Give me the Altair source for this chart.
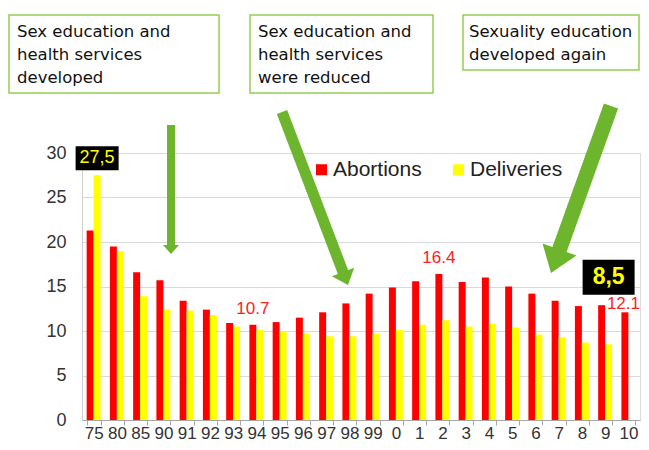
import altair as alt
import pandas as pd

# ---- data ----
years = ["75", "80", "85", "90", "91", "92", "93", "94", "95", "96", "97", "98",
         "99", "0", "1", "2", "3", "4", "5", "6", "7", "8", "9", "10"]
abortions = [21.3, 19.5, 16.6, 15.7, 13.4, 12.4, 10.9, 10.7, 11.0, 11.5, 12.1, 13.1,
             14.2, 14.9, 15.6, 16.4, 15.5, 16.0, 15.0, 14.2, 13.4, 12.8, 12.9, 12.1]
deliveries = [27.5, 19.0, 13.9, 12.4, 12.3, 11.8, 10.5, 10.1, 10.0, 9.7, 9.4, 9.4,
              9.7, 10.1, 10.7, 11.2, 10.5, 10.8, 10.4, 9.6, 9.3, 8.7, 8.5, None]
series = ["Abortions", "Deliveries"]
colors = ["#ff0000", "#ffff00"]
y_ticks = [0, 5, 10, 15, 20, 25, 30]

red_label_years = ["94", "2"]
red_label_last = ["10"]
boxed_label_years = ["75", "9"]

notes = [
    ["Sex education and", "health services", "developed"],
    ["Sex education and", "health services", "were reduced"],
    ["Sexuality education", "developed again"],
]

# ---- tables ----
rows = []
for i, yr in enumerate(years):
    rows.append({"year": yr, "series": "Abortions", "value": abortions[i]})
    if deliveries[i] is not None:
        rows.append({"year": yr, "series": "Deliveries", "value": deliveries[i]})
df = pd.DataFrame(rows)


def red_rows(ys):
    return pd.DataFrame([{"year": y, "series": "Abortions",
                          "value": abortions[years.index(y)],
                          "label": f"{abortions[years.index(y)]:.1f}"} for y in ys])


red_df = red_rows(red_label_years)
red_last_df = red_rows(red_label_last)
box_df = pd.DataFrame([{"year": y, "series": "Deliveries",
                        "value": deliveries[years.index(y)],
                        "label": f"{deliveries[years.index(y)]:.1f}".replace(".", ",")}
                       for y in boxed_label_years])

W, H = 558, 267
FONT = "Liberation Sans"
NOTE_FONT = "DejaVu Sans"
GREEN = "#6cb52d"

xscale = alt.Scale(domain=years, paddingInner=0.4, paddingOuter=0.2)
yscale = alt.Scale(domain=[0, 30])
xo = alt.XOffset("series:N", scale=alt.Scale(domain=series))
X = alt.X("year:N", sort=years, scale=xscale)
Y = alt.Y("value:Q", scale=yscale)

bars = alt.Chart(df).mark_bar().encode(
    x=alt.X("year:N", sort=years, scale=xscale,
            axis=alt.Axis(title=None, labelAngle=0, tickBand="extent", grid=False,
                          labelFont=FONT, labelFontSize=17, labelColor="#333333",
                          tickColor="#a6a6a6", domainColor="#a6a6a6", tickSize=5,
                          labelPadding=0)),
    xOffset=xo,
    y=alt.Y("value:Q", scale=yscale,
            axis=alt.Axis(title=None, values=y_ticks, ticks=False, grid=True,
                          gridColor="#d9d9d9", domainColor="#d0d0d0",
                          labelFont=FONT, labelFontSize=18, labelColor="#333333",
                          labelPadding=16)),
    color=alt.Color("series:N", scale=alt.Scale(domain=series, range=colors),
                    legend=alt.Legend(title=None, orient="none", legendX=229, legendY=6,
                                      direction="horizontal", symbolType="square",
                                      symbolSize=121, symbolStrokeWidth=0,
                                      labelFont=FONT, labelFontSize=21, labelColor="#222222",
                                      labelOffset=1, columnPadding=26, padding=0)),
)

red_text = alt.Chart(red_df).mark_text(
    font=FONT, fontSize=17, color="#ff2020", dy=-16
).encode(x=X, xOffset=xo, y=Y, text="label:N")

red_text_last = alt.Chart(red_last_df).mark_text(
    font=FONT, fontSize=17, color="#ff2020", dy=-8, dx=-18, align="left"
).encode(x=X, xOffset=xo, y=Y, text="label:N")

# black boxes behind boxed labels (custom symbol shape, offset above the bar)
box_75 = alt.Chart(box_df[box_df.year == "75"]).mark_point(
    shape="M-0.896,-1.208L0.896,-1.208L0.896,-0.208L-0.896,-0.208Z",
    size=2304, filled=True, color="black", opacity=1
).encode(x=X, xOffset=xo, y=Y)
text_75 = alt.Chart(box_df[box_df.year == "75"]).mark_text(
    font=FONT, fontSize=18, color="#ffff00", dy=-17
).encode(x=X, xOffset=xo, y=Y, text="label:N")

box_9 = alt.Chart(box_df[box_df.year == "9"]).mark_point(
    shape="M-1,-3.25L1,-3.25L1,-1.904L-1,-1.904Z",
    size=2704, filled=True, color="black", opacity=1
).encode(x=X, xOffset=xo, y=Y)
text_9 = alt.Chart(box_df[box_df.year == "9"]).mark_text(
    font=FONT, fontSize=23, fontWeight="bold", color="#ffff00", dy=-67
).encode(x=X, xOffset=xo, y=Y, text="label:N")

# ---- annotation boxes (pixel placement, relative to plot origin) ----
box_geom = [(-73, 137, -138, -60), (168, 351, -138, -60), (381, 557, -138, -83)]
text_x = [-65, 176, 387]
line_y0, line_h = -121, 23

layers = [bars, red_text, red_text_last, box_75, text_75, box_9, text_9]

for (x1, x2, y1, y2), tx, lines in zip(box_geom, text_x, notes):
    layers.append(alt.Chart(pd.DataFrame({"k": [0]})).mark_rect(
        fill="white", stroke="#92d050", strokeWidth=1.5
    ).encode(x=alt.value(x1), x2=alt.value(x2), y=alt.value(y1), y2=alt.value(y2)))
    for j, ln in enumerate(lines):
        layers.append(alt.Chart(pd.DataFrame({"t": [ln]})).mark_text(
            font=NOTE_FONT, fontSize=16.5, align="left", baseline="middle", color="#111111"
        ).encode(x=alt.value(tx), y=alt.value(line_y0 + j * line_h), text="t:N"))

# ---- arrows ----
shafts = [((89, -28), (89, 94), 8), ((200, -41), (262.4, 122.7), 11),
          ((529, -47), (475.8, 101.2), 15)]
heads = [((89, 101), 0, "M0,0L-8,-9L8,-9Z"),
         ((266, 132), 339.1, "M0,0L-12,-14L12,-14Z"),
         ((469, 120), 19.8, "M0,0L-18,-25L18,-25Z")]
for (s, e, w) in shafts:
    layers.append(alt.Chart(pd.DataFrame({"k": [0]})).mark_rule(
        color=GREEN, strokeWidth=w, strokeCap="butt"
    ).encode(x=alt.value(s[0]), y=alt.value(s[1]), x2=alt.value(e[0]), y2=alt.value(e[1])))
for (p, ang, path) in heads:
    layers.append(alt.Chart(pd.DataFrame({"k": [0]})).mark_point(
        shape=path, size=4, filled=True, color=GREEN, opacity=1, angle=ang
    ).encode(x=alt.value(p[0]), y=alt.value(p[1])))

chart = alt.layer(*layers).properties(
    width=W, height=H,
    autosize=alt.AutoSizeParams(type="none"),
    padding={"left": 74, "top": 145, "right": 1, "bottom": 22},
).configure_view(stroke=None).configure(background="white")

chart.save("out.html", embed_options={"renderer": "svg", "actions": False})
